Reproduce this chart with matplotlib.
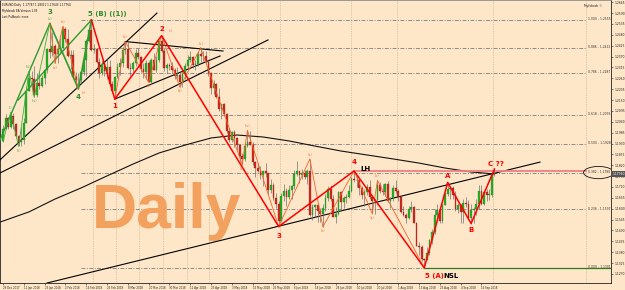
import numpy as np
import pandas as pd
import matplotlib
matplotlib.use("Agg")
import matplotlib.pyplot as plt
from matplotlib.patches import Ellipse
from matplotlib.transforms import blended_transform_factory

# ---------------- data ----------------
symbol = "EURUSD,Daily"
dates = pd.bdate_range("2017-12-29", "2018-09-21", freq="C", holidays=["2018-01-01"])

opens = [1.1943,
    1.2005, 1.2058, 1.2016, 1.2067, 1.2029, 1.1967, 1.1937, 1.1947, 1.2034, 1.2198, 1.2262,
    1.2258, 1.2175, 1.2238, 1.2220, 1.2262, 1.2300, 1.2410, 1.2395, 1.2425, 1.2383, 1.2410,
    1.2414, 1.2510, 1.2460, 1.2374, 1.2378, 1.2265, 1.2250, 1.2252, 1.2290, 1.2351, 1.2450,
    1.2505, 1.2405, 1.2406, 1.2340, 1.2285, 1.2330, 1.2295, 1.2318, 1.2230,
    1.2195, 1.2268, 1.2315, 1.2336, 1.2405, 1.2410, 1.2312, 1.2306, 1.2336, 1.2390, 1.2368,
    1.2305, 1.2290, 1.2335, 1.2241, 1.2355, 1.2300, 1.2353, 1.2448, 1.2400, 1.2310, 1.2325,
    1.2322, 1.2302, 1.2270, 1.2278, 1.2239, 1.2281, 1.2320, 1.2355, 1.2367, 1.2328, 1.2330,
    1.2383, 1.2372, 1.2375, 1.2345, 1.2288, 1.2212, 1.2232, 1.2165, 1.2105, 1.2130,
    1.2080, 1.1992, 1.1950, 1.1990, 1.1960, 1.1920, 1.1865, 1.1850, 1.1917, 1.1940, 1.1925,
    1.1835, 1.1805, 1.1790, 1.1770, 1.1790, 1.1780, 1.1695, 1.1720, 1.1655, 1.1625, 1.1540,
    1.1665,
    1.1690, 1.1660, 1.1695, 1.1715, 1.1775, 1.1790, 1.1769, 1.1780, 1.1760, 1.1790, 1.1569,
    1.1610, 1.1620, 1.1587, 1.1571, 1.1602, 1.1655, 1.1700, 1.1650, 1.1560, 1.1571,
    1.1684, 1.1634, 1.1655, 1.1657, 1.1688, 1.1748, 1.1747, 1.1743, 1.1705, 1.1670, 1.1685,
    1.1710, 1.1660, 1.1640, 1.1645, 1.1720, 1.1690, 1.1685, 1.1727, 1.1640, 1.1656, 1.1705,
    1.1690, 1.1660, 1.1585, 1.1567, 1.1555, 1.1600, 1.1610, 1.1530, 1.1410, 1.1405, 1.1345,
    1.1343, 1.1375, 1.1440, 1.1480, 1.1570, 1.1595, 1.1536, 1.1620, 1.1675, 1.1700, 1.1706,
    1.1667,
    1.1600, 1.1620, 1.1583, 1.1630, 1.1625, 1.1555, 1.1595, 1.1600, 1.1625, 1.1690, 1.1625,
    1.1685, 1.1670, 1.1672, 1.1778]
highs = [1.2023,
    1.2081, 1.2064, 1.2089, 1.2082, 1.2035, 1.1975, 1.2013, 1.2058, 1.2219, 1.2296, 1.2296,
    1.2323, 1.2289, 1.2297, 1.2278, 1.2308, 1.2415, 1.2537, 1.2495, 1.2433, 1.2435, 1.2480,
    1.2523, 1.2519, 1.2508, 1.2404, 1.2403, 1.2294, 1.2288, 1.2300, 1.2374, 1.2460, 1.2514,
    1.2555, 1.2432, 1.2408, 1.2362, 1.2351, 1.2335, 1.2357, 1.2354, 1.2245,
    1.2273, 1.2336, 1.2365, 1.2419, 1.2446, 1.2446, 1.2335, 1.2350, 1.2410, 1.2413, 1.2375,
    1.2336, 1.2355, 1.2347, 1.2365, 1.2388, 1.2375, 1.2455, 1.2476, 1.2414, 1.2338, 1.2336,
    1.2345, 1.2312, 1.2318, 1.2293, 1.2298, 1.2335, 1.2379, 1.2396, 1.2372, 1.2354, 1.2397,
    1.2414, 1.2398, 1.2396, 1.2353, 1.2291, 1.2251, 1.2238, 1.2209, 1.2130, 1.2137,
    1.2083, 1.2008, 1.1994, 1.1996, 1.1965, 1.1929, 1.1880, 1.1935, 1.1997, 1.1995, 1.1936,
    1.1842, 1.1830, 1.1815, 1.1792, 1.1829, 1.1783, 1.1750, 1.1728, 1.1680, 1.1639, 1.1678,
    1.1723,
    1.1705, 1.1719, 1.1720, 1.1796, 1.1840, 1.1793, 1.1800, 1.1795, 1.1800, 1.1852, 1.1624,
    1.1626, 1.1627, 1.1606, 1.1622, 1.1675, 1.1715, 1.1720, 1.1668, 1.1610, 1.1690,
    1.1691, 1.1664, 1.1674, 1.1721, 1.1762, 1.1791, 1.1773, 1.1750, 1.1713, 1.1700, 1.1724,
    1.1745, 1.1670, 1.1649, 1.1743, 1.1734, 1.1723, 1.1730, 1.1740, 1.1660, 1.1720, 1.1747,
    1.1702, 1.1665, 1.1614, 1.1576, 1.1614, 1.1640, 1.1616, 1.1531, 1.1432, 1.1415, 1.1350,
    1.1406, 1.1445, 1.1499, 1.1600, 1.1623, 1.1605, 1.1623, 1.1685, 1.1733, 1.1707, 1.1717,
    1.1690,
    1.1627, 1.1625, 1.1649, 1.1660, 1.1645, 1.1622, 1.1610, 1.1650, 1.1720, 1.1722, 1.1695,
    1.1700, 1.1700, 1.1786, 1.1801]
lows = [1.1940,
    1.2003, 1.2004, 1.2006, 1.2004, 1.1962, 1.1915, 1.1916, 1.1928, 1.2032, 1.2196, 1.2218,
    1.2165, 1.2165, 1.2204, 1.2214, 1.2231, 1.2287, 1.2365, 1.2372, 1.2335, 1.2337, 1.2390,
    1.2406, 1.2443, 1.2370, 1.2306, 1.2261, 1.2207, 1.2206, 1.2234, 1.2276, 1.2273, 1.2444,
    1.2400, 1.2386, 1.2337, 1.2260, 1.2279, 1.2270, 1.2256, 1.2224, 1.2186,
    1.2155, 1.2260, 1.2275, 1.2319, 1.2385, 1.2309, 1.2272, 1.2294, 1.2321, 1.2356, 1.2290,
    1.2259, 1.2254, 1.2240, 1.2232, 1.2300, 1.2290, 1.2341, 1.2392, 1.2295, 1.2286, 1.2304,
    1.2287, 1.2255, 1.2258, 1.2215, 1.2216, 1.2255, 1.2309, 1.2345, 1.2310, 1.2303, 1.2320,
    1.2340, 1.2346, 1.2333, 1.2270, 1.2183, 1.2183, 1.2160, 1.2095, 1.2055, 1.2070,
    1.1984, 1.1938, 1.1937, 1.1910, 1.1895, 1.1838, 1.1823, 1.1844, 1.1912, 1.1922, 1.1821,
    1.1763, 1.1785, 1.1750, 1.1717, 1.1759, 1.1676, 1.1680, 1.1645, 1.1605, 1.1510, 1.1535,
    1.1640,
    1.1615, 1.1650, 1.1647, 1.1702, 1.1767, 1.1728, 1.1749, 1.1752, 1.1724, 1.1563, 1.1542,
    1.1560, 1.1532, 1.1533, 1.1508, 1.1590, 1.1640, 1.1640, 1.1560, 1.1526, 1.1568,
    1.1591, 1.1603, 1.1629, 1.1654, 1.1685, 1.1736, 1.1710, 1.1669, 1.1647, 1.1613, 1.1670,
    1.1649, 1.1575, 1.1575, 1.1619, 1.1680, 1.1670, 1.1664, 1.1634, 1.1602, 1.1640, 1.1682,
    1.1640, 1.1579, 1.1562, 1.1530, 1.1550, 1.1583, 1.1527, 1.1410, 1.1364, 1.1335, 1.1301,
    1.1340, 1.1365, 1.1420, 1.1470, 1.1547, 1.1530, 1.1530, 1.1618, 1.1666, 1.1650, 1.1650,
    1.1588,
    1.1580, 1.1530, 1.1527, 1.1610, 1.1550, 1.1525, 1.1530, 1.1570, 1.1600, 1.1621, 1.1620,
    1.1640, 1.1645, 1.1660, 1.1764]
closes = [1.2005,
    1.2058, 1.2016, 1.2067, 1.2029, 1.1967, 1.1937, 1.1947, 1.2034, 1.2198, 1.2262, 1.2258,
    1.2175, 1.2238, 1.2220, 1.2262, 1.2300, 1.2410, 1.2395, 1.2425, 1.2383, 1.2410, 1.2414,
    1.2510, 1.2460, 1.2374, 1.2378, 1.2265, 1.2250, 1.2252, 1.2290, 1.2351, 1.2450, 1.2505,
    1.2405, 1.2406, 1.2340, 1.2285, 1.2330, 1.2295, 1.2318, 1.2230, 1.2195,
    1.2268, 1.2315, 1.2336, 1.2405, 1.2410, 1.2312, 1.2306, 1.2336, 1.2390, 1.2368, 1.2305,
    1.2290, 1.2335, 1.2241, 1.2355, 1.2300, 1.2353, 1.2448, 1.2400, 1.2310, 1.2325, 1.2322,
    1.2302, 1.2270, 1.2278, 1.2239, 1.2281, 1.2320, 1.2355, 1.2367, 1.2328, 1.2330, 1.2383,
    1.2372, 1.2375, 1.2345, 1.2288, 1.2212, 1.2232, 1.2165, 1.2105, 1.2130, 1.2080,
    1.1992, 1.1950, 1.1990, 1.1960, 1.1920, 1.1865, 1.1850, 1.1917, 1.1940, 1.1925, 1.1835,
    1.1805, 1.1790, 1.1770, 1.1790, 1.1780, 1.1695, 1.1720, 1.1655, 1.1625, 1.1540, 1.1665,
    1.1690,
    1.1660, 1.1695, 1.1715, 1.1775, 1.1790, 1.1769, 1.1780, 1.1760, 1.1790, 1.1569, 1.1610,
    1.1620, 1.1587, 1.1571, 1.1602, 1.1655, 1.1700, 1.1650, 1.1560, 1.1571, 1.1684,
    1.1634, 1.1655, 1.1657, 1.1688, 1.1748, 1.1747, 1.1743, 1.1705, 1.1670, 1.1685, 1.1710,
    1.1660, 1.1640, 1.1645, 1.1720, 1.1690, 1.1685, 1.1727, 1.1640, 1.1656, 1.1705, 1.1690,
    1.1660, 1.1585, 1.1567, 1.1555, 1.1600, 1.1610, 1.1530, 1.1410, 1.1405, 1.1345, 1.1343,
    1.1375, 1.1440, 1.1480, 1.1570, 1.1595, 1.1536, 1.1620, 1.1675, 1.1700, 1.1706, 1.1667,
    1.1600,
    1.1620, 1.1583, 1.1630, 1.1625, 1.1555, 1.1595, 1.1600, 1.1625, 1.1690, 1.1625, 1.1685,
    1.1670, 1.1672, 1.1778, 1.1776]

# 200-period moving average (bar index, value)
ma_bars = [-1, 10, 20, 30, 40, 50, 60, 70, 80, 90, 100, 110, 120, 130, 140, 150, 160, 170, 180, 189]
ma_values = [1.1533, 1.1584, 1.1649, 1.1705, 1.1766, 1.1826, 1.1882, 1.1922, 1.1958, 1.1973,
             1.1963, 1.1943, 1.1917, 1.1892, 1.1872, 1.1852, 1.1831, 1.1806, 1.1786, 1.1776]

# hand-drawn trendlines: ((bar, price), (bar, price))
black_trendlines = [
    ((-1.15, 1.1847), (59.2, 1.2590)),
    ((-1.15, 1.1781), (101.9, 1.2454)),
    ((43.0, 1.2155), (83.5, 1.2373)),
    ((47.0, 1.2446), (84.6, 1.2398)),
    ((16.9, 1.1224), (206.5, 1.1836)),
]
green_extra_lines = [
    ((-1.15, 1.1948), (18, 1.2537)),
    ((5.8, 1.2150), (34, 1.2555)),
]

# wave pivots: (bar, 'H' or 'L')
green_main = [(18, 'H'), (29, 'L'), (34, 'H')]
green_sub = [(0, 'L'), (3, 'H'), (6, 'L'), (10, 'H'), (12, 'L'), (18, 'H')]
red_main = [(34, 'H'), (43, 'L'), (61, 'H'), (106, 'L'), (135, 'H'), (162, 'L'), (171, 'H'), (180, 'L'), (189, 'H')]
orange_subs = [
    [(18, 'H'), (20, 'L'), (23, 'H'), (29, 'L')],
    [(43, 'L'), (47, 'H'), (56, 'L'), (61, 'H'), (68, 'L'), (76, 'H')],
    [(76, 'H'), (92, 'L'), (94, 'H'), (106, 'L')],
    [(106, 'L'), (118, 'H'), (123, 'L'), (135, 'H')],
    [(135, 'H'), (142, 'L'), (144, 'H'), (162, 'L')],
]

# big wave labels: (text, bar, side, dx pts, dy pts, color, ha)
wave_labels = [
    ("3", 18, 'H', 0, 8, '#2E8B2E', 'center'),
    ("5 (B) ((1))", 34, 'H', -2.5, 4.5, '#2E8B2E', 'left'),
    ("4", 29, 'L', 0, -6, '#2E8B2E', 'center'),
    ("1", 43, 'L', 0, -5, '#FF0000', 'center'),
    ("2", 61, 'H', 0, 5, '#FF0000', 'center'),
    ("3", 106, 'L', 0, -7, '#FF0000', 'center'),
    ("4", 135, 'H', 0, 6.5, '#FF0000', 'center'),
    ("LH", 135, 'H', 4.5, 1.5, '#000000', 'left'),
    ("5 (A)", 162, 'L', 0.5, -6, '#FF0000', 'left'),
    ("NSL", 162, 'L', 13.5, -6, '#000000', 'left'),
    ("A", 171, 'H', 0, 4.5, '#FF0000', 'center'),
    ("B", 180, 'L', 0, -5, '#FF0000', 'center'),
    ("C ??", 189, 'H', 1, 3.5, '#FF0000', 'center'),
]
# small sub-wave labels: (text, bar, side, dx pts, color)
small_labels = [
    ("(i)", 3, 'H', 0, '#3CA63C'), ("(ii)", 6, 'L', 0, '#3CA63C'), ("(iii)", 10, 'H', 0, '#3CA63C'),
    ("(iv)", 12, 'L', 0, '#3CA63C'), ("(v)", 18, 'H', 0, '#3CA63C'),
    ("(a)", 20, 'L', 0, '#F06A30'), ("(b)", 23, 'H', 0, '#F06A30'), ("(c)", 29, 'L', 4, '#F06A30'),
    ("(a)", 47, 'H', 0, '#F06A30'), ("(b)", 56, 'L', 0, '#F06A30'), ("(c)", 61, 'H', 7, '#F06A30'),
    ("(d)", 68, 'L', 0, '#F06A30'), ("(e)", 76, 'H', 0, '#F06A30'),
    ("(iii)", 92, 'L', 0, '#F06A30'), ("(iv)", 94, 'H', 0, '#F06A30'),
    ("(a)", 118, 'H', 0, '#F06A30'), ("(b)", 123, 'L', 0, '#F06A30'),
    ("(a)", 142, 'L', 0, '#F06A30'), ("(b)", 144, 'H', 0, '#F06A30'),
]

fib_ratios = [0.0, 0.236, 0.382, 0.5, 0.618, 0.786, 0.886, 1.0]
fib_anchor_high_bar = 34
fib_anchor_low_bar = 162
price_ticks = [1.1270, 1.1325, 1.1380, 1.1435, 1.1490, 1.1545, 1.1600, 1.1655, 1.1710, 1.1765,
               1.1820, 1.1875, 1.1930, 1.1985, 1.2040, 1.2095, 1.2150, 1.2205, 1.2260, 1.2315,
               1.2370, 1.2425, 1.2480, 1.2535, 1.2590, 1.2645]
vgrid_bars = [34.6, 43.5, 52.3, 61.5, 70.8, 79.2, 97.7, 106.5, 133.8, 151.5, 188.3, 224.2]
header_lines = ["EURUSD,Daily  1.17787 1.18011 1.17643 1.17764",
                "Myfxbook EA Version 1.05", "Last Pullback: none"]

# ---------------- drawing ----------------
o, h, l, c = (np.array(v) for v in (opens, highs, lows, closes))
n = len(c)
xb = np.arange(n)

def pv(bar, side):
    return (bar, highs[bar] if side == 'H' else lows[bar])

BG = '#FEE7C9'
fig = plt.figure(figsize=(6.25, 2.9), dpi=100, facecolor=BG)
ax = fig.add_axes([0, 7 / 290, 611 / 625, 283 / 290])
ax.set_facecolor(BG)
ax.set_xlim(-1.15, 233.8)
ax.set_ylim(1.12242, 1.26562)

# grid
for gb in vgrid_bars:
    ax.axvline(gb, color='#C9A27A', lw=0.5, ls=(0, (1, 1.5)), zorder=1)

# fib levels
fh, fl = highs[fib_anchor_high_bar], lows[fib_anchor_low_bar]
for r in fib_ratios:
    lvl = fl + r * (fh - fl)
    ax.plot([30, 224.3], [lvl, lvl], color='#8C8C8C', lw=0.7, ls=(0, (4, 1.5, 1, 1.5)), zorder=1.5)
    ax.text(224.8, lvl + 0.0004, f"{r:.3f} - {lvl:.4f}", fontsize=2.2, color='#333333',
            ha='left', va='center', zorder=6)
lvl382 = fl + 0.382 * (fh - fl)
ax.add_patch(Ellipse((229.0, lvl382 + 0.0003), 11.5, 0.0062, fill=False, ec='#111111', lw=0.6, zorder=6))

# Daily watermark
ax.text(92 / 611, 1 - 228 / 283, "Daily", transform=ax.transAxes, fontsize=45,
        family='Liberation Sans', weight='bold', color='#F3A15E', ha='left', va='baseline', zorder=2)

# moving average
ax.plot(ma_bars, ma_values, color='#111111', lw=0.8, zorder=2.5)

# trendlines
for (b0, p0), (b1, p1) in black_trendlines:
    ax.plot([b0, b1], [p0, p1], color='#000000', lw=0.8, zorder=3)

# LH line and NSL line
ax.plot([135, 224.3], [highs[135], highs[135]], color='#F08080', lw=1.3, zorder=3)
ax.plot([162, 233.8], [lows[162], lows[162]], color='#2E7D1E', lw=0.9, zorder=3)

# candles
up = c >= o
ax.vlines(xb, l, h, color='#707070', lw=0.5, zorder=4)
bot = np.minimum(o, c)
hgt = np.maximum(np.abs(c - o), 0.00025)
ax.bar(xb[up], hgt[up], bottom=bot[up], width=0.7, color='#25B025', edgecolor='#1C7A1C', lw=0.2, zorder=4.5)
ax.bar(xb[~up], hgt[~up], bottom=bot[~up], width=0.7, color='#D02A1E', edgecolor='#8A1A12', lw=0.2, zorder=4.5)

# wave zigzags
def zig(pivots, **kw):
    pts = [pv(b, s) for b, s in pivots]
    ax.plot([p[0] for p in pts], [p[1] for p in pts], **kw)

for (b0, p0), (b1, p1) in green_extra_lines:
    ax.plot([b0, b1], [p0, p1], color='#2E9B2E', lw=1.0, zorder=5)
zig(green_main, color='#2E9B2E', lw=1.2, zorder=5)
zig(green_sub, color='#3CB03C', lw=0.6, zorder=5)
for seg in orange_subs:
    zig(seg, color='#F5622A', lw=0.6, zorder=5)
zig(red_main, color='#FF0000', lw=1.1, zorder=5.2)

# labels
for txt, b, s, dx, dy, col, ha in wave_labels:
    ax.annotate(txt, pv(b, s), xytext=(dx, dy), textcoords='offset points', fontsize=5,
                weight='bold', color=col, ha=ha, va='center', zorder=7)
for txt, b, s, dx, col in small_labels:
    ax.annotate(txt, pv(b, s), xytext=(dx, 3 if s == 'H' else -3), textcoords='offset points',
                fontsize=2.4, color=col, ha='center', va='center', zorder=6.5)

# header
for k, line in enumerate(header_lines):
    ax.text(0.004, 0.988 - k * 0.021, line, transform=ax.transAxes, fontsize=2.0,
            color='#111111', ha='left', va='top', zorder=8)
ax.text(0.985, 0.985, "Myfxbook \u00a9", transform=ax.transAxes, fontsize=2.2,
        color='#222222', ha='right', va='top', zorder=8)

# axes
ax.yaxis.tick_right()
ax.set_yticks(price_ticks)
ax.set_yticklabels([f"{t:.4f}" for t in price_ticks])
ax.tick_params(axis='y', labelsize=2.2, length=1.5, width=0.4, pad=0.8, colors='#222222')
tick_bars = list(range(0, n, 8))
ax.set_xticks(tick_bars)
ax.set_xticklabels([f"{dates[i].day} {dates[i]:%b %Y}" for i in tick_bars])
ax.tick_params(axis='x', labelsize=1.9, length=1.5, width=0.4, pad=0.6, colors='#222222')
for t in ax.get_xticklabels():
    t.set_horizontalalignment('left')
ax.text(1.002, lvl382 - 0.0003, f"{closes[-1]:.5f}", transform=blended_transform_factory(ax.transAxes, ax.transData),
        fontsize=2.2, color='white', ha='left', va='center', zorder=9, clip_on=False,
        bbox=dict(boxstyle='square,pad=0.25', fc='#555555', ec='none'))
for sp in ('left', 'bottom', 'right'):
    ax.spines[sp].set_color('#222222')
    ax.spines[sp].set_linewidth(0.6)
ax.spines['top'].set_color('#8A8A8A')
ax.spines['top'].set_linewidth(1.2)

fig.savefig("out.png", dpi=100, facecolor=BG)
